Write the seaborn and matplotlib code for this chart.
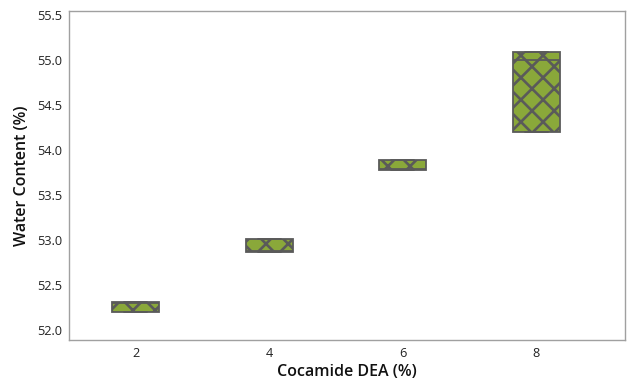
import matplotlib
matplotlib.use("Agg")
import matplotlib.pyplot as plt
import seaborn as sns
import pandas as pd

# Cocamide DEA levels and water content summary per level (three replicates:
# lowest, middle, highest reading)
cocamide = [2, 4, 6, 8]
water_low = [52.20, 52.87, 53.78, 54.20]
water_mid = [52.30, 52.88, 53.79, 55.00]
water_high = [52.31, 53.01, 53.89, 55.09]

y_ticks = [52.0, 52.5, 53.0, 53.5, 54.0, 54.5, 55.0, 55.5]
x_ticks = [2, 4, 6, 8]

# With n = 3 the quartiles sit on the extremes (Minitab rule), so repeat the
# extremes to make the box run from the lowest to the highest reading.
rows = []
for c, lo, mid, hi in zip(cocamide, water_low, water_mid, water_high):
    for v in (lo, lo, mid, hi, hi):
        rows.append({"Cocamide DEA (%)": c, "Water Content (%)": v})
df = pd.DataFrame(rows)

# Render at a higher dpi so the cross-hatch cells come out larger; all
# point-based sizes are scaled by k to keep their pixel size.
DPI = 133
k = 100 / DPI

sns.set_theme(style="white")
plt.rcParams["font.family"] = ["Open Sans", "DejaVu Sans"]
plt.rcParams["hatch.linewidth"] = 1.9 * k
plt.rcParams["hatch.color"] = "#5a5a5a"

fill = "#8aa83a"
edge = "#5a5a5a"

fig = plt.figure(figsize=(627 / DPI, 383 / DPI), dpi=DPI)
ax = fig.add_axes([0.110, 0.112, 0.887, 0.859])

sns.boxplot(
    data=df, x="Cocamide DEA (%)", y="Water Content (%)",
    native_scale=True, width=0.35, whis=(0, 100),
    color=fill, linecolor=edge, linewidth=1.3 * k,
    saturation=1, showfliers=False, ax=ax,
)
for patch in ax.patches:
    patch.set_hatch("xx")
    patch.set_facecolor(fill)
    patch.set_edgecolor(edge)

ax.set_xlim(1.0, 9.33)
ax.set_ylim(51.89, 55.54)
ax.set_yticks(y_ticks)
ax.set_yticklabels([f"{t:.1f}" for t in y_ticks])
ax.set_xticks(x_ticks)
ax.set_xticklabels([str(t) for t in x_ticks])

for s in ax.spines.values():
    s.set_color("#a0a0a0")
    s.set_linewidth(1.0 * k)
ax.tick_params(axis="both", direction="out", length=3 * k, width=1 * k,
               color="#a0a0a0", labelsize=9.2 * k, labelcolor="#222222",
               pad=2 * k)
ax.set_xlabel("Cocamide DEA (%)", fontsize=11.5 * k, fontweight="semibold",
              color="#111111", labelpad=3 * k)
ax.set_ylabel("Water Content (%)", fontsize=11.5 * k, fontweight="semibold",
              color="#111111", labelpad=5 * k)

fig.savefig("out.png", dpi=DPI)
